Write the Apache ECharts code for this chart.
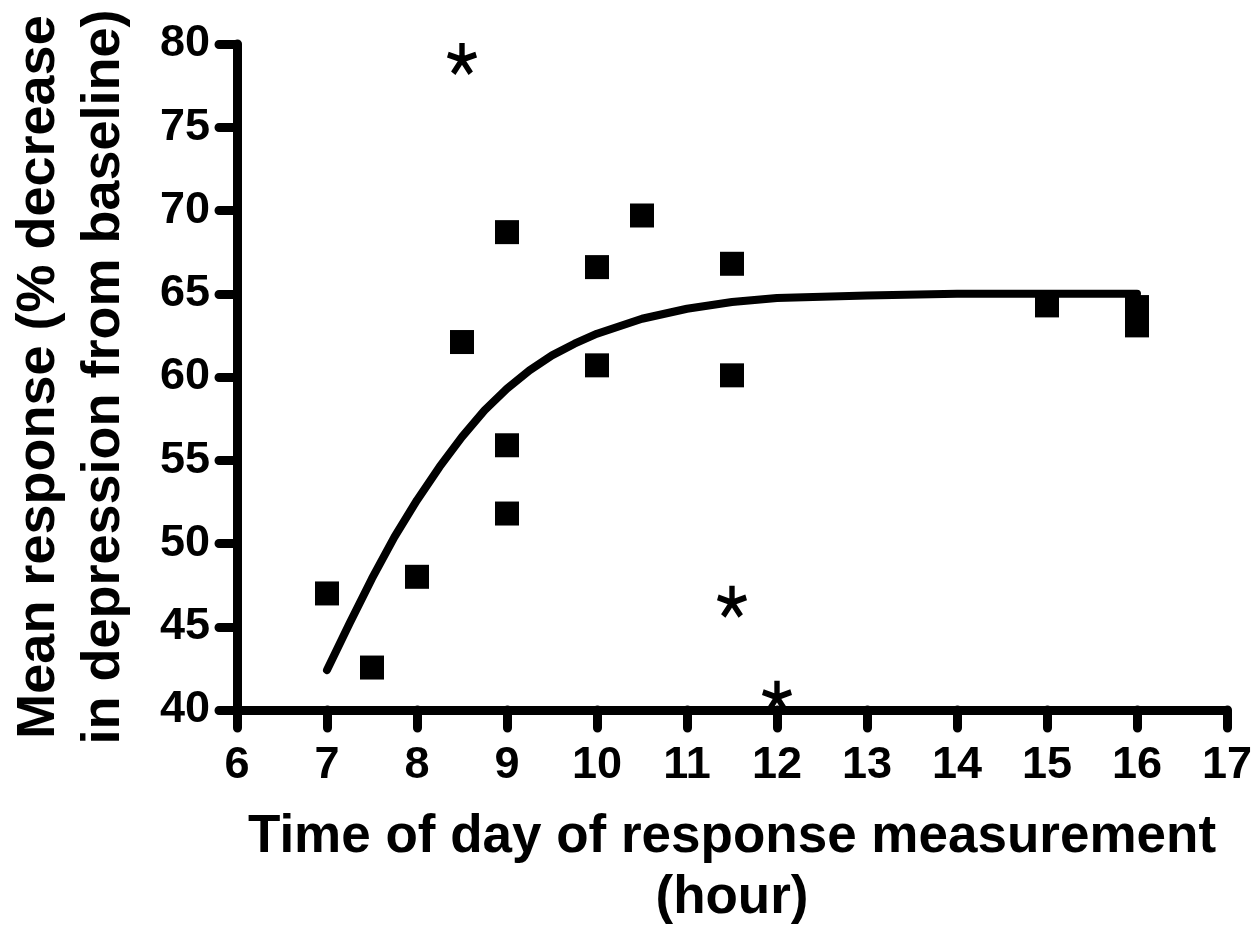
<!DOCTYPE html>
<html>
<head>
<meta charset="utf-8">
<script src="https://cdn.jsdelivr.net/npm/echarts@6/dist/echarts.min.js"></script>
<style>
  html, body { margin: 0; padding: 0; background: #fff; }
  #chart { width: 1259px; height: 932px; }
</style>
</head>
<body>
<div id="chart"></div>
<script>
// measured points (squares)
const squareX = [7, 7.5, 8, 8.5, 9, 9, 9, 10, 10, 10.5, 11.5, 11.5, 15, 16, 16];
const squareY = [47.0, 42.55, 48.0, 62.1, 68.7, 55.9, 51.8, 66.6, 60.7, 69.7, 66.8, 60.1, 64.3, 64.2, 63.1];

// asterisk marks
const starX = [8.5, 11.5, 12];
const starY = [79.1, 46.5, 40.8];

// fitted curve
const fitX = [7, 7.25, 7.5, 7.75, 8, 8.25, 8.5, 8.75, 9, 9.25, 9.5, 9.75, 10, 10.5, 11, 11.5, 12, 13, 14, 15, 16];
const fitY = [42.4, 45.2, 47.9, 50.4, 52.6, 54.6, 56.4, 58.0, 59.3, 60.4, 61.3, 62.0, 62.6, 63.5, 64.1, 64.5, 64.75, 64.9, 65.0, 65.0, 65.0];

// axes
const xMin = 6, xMax = 17, xStep = 1;
const yMin = 40, yMax = 80, yStep = 5;
const xTitle = 'Time of day of response measurement\n(hour)';
const yTitle = 'Mean response (% decrease\nin depression from baseline)';

const FONT = '"Liberation Sans", Arial, sans-serif';

// 5 armed asterisk as a symbol path
function asteriskPath() {
    const w = 0.36, back = 0.15;
    let d = '';
    for (let i = 0; i < 5; i++) {
        const a = i * 72 * Math.PI / 180;
        const dx = Math.sin(a), dy = -Math.cos(a);
        const px = Math.cos(a) * w / 2, py = Math.sin(a) * w / 2;
        const pts = [
            [-back * dx - px, -back * dy - py],
            [dx - px, dy - py],
            [dx + px, dy + py],
            [-back * dx + px, -back * dy + py]
        ];
        d += 'M' + pts.map(p => p[0].toFixed(3) + ' ' + p[1].toFixed(3)).join(' L') + ' Z ';
    }
    return 'path://' + d;
}

const chart = echarts.init(document.getElementById('chart'));

const axisText = { color: '#000', fontFamily: FONT, fontWeight: 'bold' };

const option = {
    animation: false,
    backgroundColor: '#fff',
    grid: {
        left: 237, right: 32, top: 44, bottom: 222,
        containLabel: false,
        outerBoundsMode: 'none'
    },
    xAxis: {
        type: 'value',
        min: xMin, max: xMax, interval: xStep,
        name: xTitle,
        nameLocation: 'middle',
        nameGap: 97,
        nameTextStyle: Object.assign({ fontSize: 53, lineHeight: 61 }, axisText),
        axisLine: { show: true, onZero: false, lineStyle: { color: '#000', width: 9, cap: 'round' } },
        axisTick: { show: true, inside: false, length: 18, lineStyle: { color: '#000', width: 9, cap: 'round' } },
        axisLabel: Object.assign({ fontSize: 45, margin: 33 }, axisText),
        splitLine: { show: false }
    },
    yAxis: {
        type: 'value',
        min: yMin, max: yMax, interval: yStep,
        name: yTitle,
        nameLocation: 'middle',
        nameGap: 100,
        nameTextStyle: Object.assign({ fontSize: 54, lineHeight: 65 }, axisText),
        axisLine: { show: true, onZero: false, lineStyle: { color: '#000', width: 9, cap: 'round' } },
        axisTick: { show: true, inside: false, length: 18, lineStyle: { color: '#000', width: 9, cap: 'round' } },
        axisLabel: Object.assign({ fontSize: 45, margin: 27 }, axisText),
        splitLine: { show: false }
    },
    series: [
        {
            name: 'points',
            type: 'scatter',
            symbol: 'rect',
            symbolSize: 24,
            itemStyle: { color: '#000', opacity: 1 },
            emphasis: { disabled: true },
            data: squareX.map((x, i) => [x, squareY[i]]),
            z: 3
        },
        {
            name: 'fit',
            type: 'line',
            showSymbol: false,
            smooth: false,
            lineStyle: { color: '#000', width: 8, cap: 'round', join: 'round' },
            data: fitX.map((x, i) => [x, fitY[i]]),
            z: 4
        },
        {
            name: 'stars',
            type: 'scatter',
            symbol: asteriskPath(),
            symbolSize: [30, 32],
            itemStyle: { color: '#000', opacity: 1 },
            emphasis: { disabled: true },
            data: starX.map((x, i) => [x, starY[i]]),
            z: 5
        }
    ]
};

chart.setOption(option);
window.addEventListener('resize', () => chart.resize());
</script>
</body>
</html>
